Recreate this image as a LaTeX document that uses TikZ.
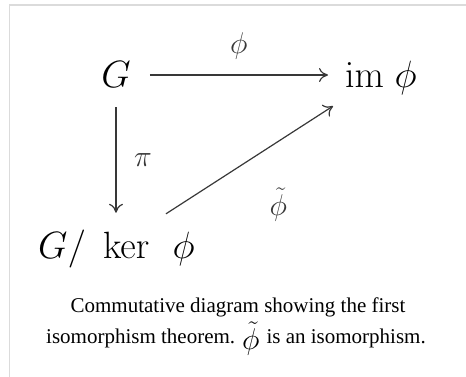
\RequirePackage{fix-cm}
\documentclass[tikz,border=0pt]{standalone}
\usepackage[no-math]{fontspec}
\setmainfont{Liberation Serif}
\usetikzlibrary{arrows.meta}
\usetikzlibrary{positioning}
\colorlet{frameColor}{black!14}
\colorlet{arrowColor}{black!78}
\tikzset{
  mapArrow/.style={
    -{To[length=9pt,width=14pt]},
    arrowColor,
    line width=1.2pt
  },
  objectText/.style={
    inner sep=0pt,
    font=\fontsize{38}{45}\selectfont
  },
  mapLabel/.style={
    inner sep=0pt,
    font=\fontsize{30}{36}\selectfont
  },
  captionText/.style={
    inner sep=0pt,
    font=\fontsize{21}{31}\selectfont
  }
}

\begin{document}
\begin{tikzpicture}[x=1pt, y=-1pt]
\useasboundingbox (0,0) rectangle (466,377);

% Frame (left and top edge only)
\draw[frameColor, line width=1.5pt] (9.5,377) -- (9.5,5) -- (466,5);

% === Objects ===
\node[objectText, anchor=base] (G) at (116,88) {$G$};
\node[objectText, anchor=base west] (im) at (345,88) {$\mathrm{im}\;\phi$};
\node[objectText, anchor=base west] (quot) at (38,258) {$G/\;\ker\;\,\phi$};

% Arrow ends on the line of the source node
\coordinate (imIn) at (G.east -| im.west);
\coordinate (quotIn) at (G.south |- quot.north);

% === Maps ===
% phi : G -> im phi
\draw[mapArrow] ([xshift=19pt]G.east) -- ([xshift=-17pt]imIn)
  node[mapLabel, midway, above=15pt] (phiLbl) {$\phi$};

% pi : G -> G/ker phi
\draw[mapArrow] ([yshift=-19pt]G.south) -- ([yshift=16.5pt]quotIn)
  node[mapLabel, midway, right=17.5pt] (piLbl) {$\pi$};

% induced map
\draw[mapArrow] ([xshift=128pt,yshift=15.5pt]quot.north west) -- ([xshift=-12pt,yshift=-10.5pt]im.south west)
  node[mapLabel, midway, below right=27pt and 19.5pt] (tildeLbl) {$\tilde{\phi}$};

% === Caption ===
\node[captionText, anchor=base] (capA) at (238,312) {Commutative diagram showing the first};
\node[captionText, anchor=base] (capB) at (236,343)
  {isomorphism theorem.\hspace{7pt}\raisebox{-6pt}{\fontsize{30}{30}\selectfont$\tilde{\phi}$}\hspace{7pt}is an isomorphism.};

\end{tikzpicture}
\end{document}
